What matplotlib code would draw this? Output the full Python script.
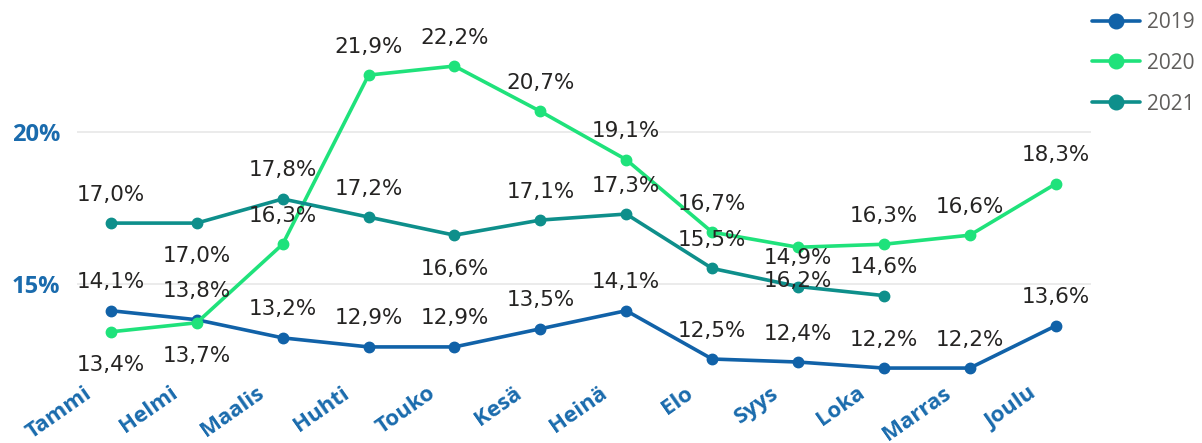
import matplotlib
matplotlib.use("Agg")
import matplotlib.pyplot as plt
import matplotlib.transforms as mtransforms
import numpy as np

months = ["Tammi", "Helmi", "Maalis", "Huhti", "Touko", "Kesä", "Heinä",
          "Elo", "Syys", "Loka", "Marras", "Joulu"]
y2019 = [14.1, 13.8, 13.2, 12.9, 12.9, 13.5, 14.1, 12.5, 12.4, 12.2, 12.2, 13.6]
y2020 = [13.4, 13.7, 16.3, 21.9, 22.2, 20.7, 19.1, 16.7, 16.2, 16.3, 16.6, 18.3]
y2021 = [17.0, 17.0, 17.8, 17.2, 16.6, 17.1, 17.3, 15.5, 14.9, 14.6]
# label placement: 'a' above, 'b' below
pos2019 = ["a"] * 12
pos2020 = ["b", "b", "a", "a", "a", "a", "a", "a", "b", "a", "a", "a"]
pos2021 = ["a", "b", "a", "a", "b", "a", "a", "a", "a", "a"]

series = [
    ("2019", y2019, pos2019, "#1162A8"),
    ("2020", y2020, pos2020, "#1FE27B"),
    ("2021", y2021, pos2021, "#0E8F8B"),
]

fig = plt.figure(figsize=(12.02, 4.43), dpi=100)
ax = fig.add_axes([0.064, 0.15, 0.8436, 0.82])

label_font = ["DejaVu Sans Condensed", "Liberation Sans Narrow", "DejaVu Sans"]
axis_color = "#1A6BAD"

for name, vals, pos, col in series:
    x = np.arange(len(vals))
    ax.plot(x, vals, color=col, lw=2.6, marker="o", ms=7.5, label=name,
            solid_capstyle="round", zorder=3)
    for xi, v, p in zip(x, vals, pos):
        off = 20.5 if p == "a" else -24
        ax.annotate(f"{v:.1f}%".replace(".", ","), (xi, v),
                    xytext=(0, off), textcoords="offset points",
                    ha="center", va="center", fontsize=15.5,
                    color="#252423", family=label_font, zorder=4)

ax.set_xlim(-0.395, 11.41)
ax.set_ylim(11.919, 23.947)
ax.set_yticks([15, 20])
ax.set_yticklabels(["15%", "20%"])
ax.set_xticks(np.arange(len(months)))
ax.set_xticklabels([])
ax.grid(axis="y", color="#E8E8E8", lw=1.2, zorder=0)
ax.grid(axis="x", visible=False)
for s in ax.spines.values():
    s.set_visible(False)
ax.tick_params(axis="both", length=0)
for lbl in ax.get_yticklabels():
    lbl.set_fontfamily("Open Sans")
    lbl.set_fontweight("bold")
    lbl.set_fontsize(17)
    lbl.set_color(axis_color)
ax.tick_params(axis="y", pad=12)

# rotated month labels under each tick
shift = mtransforms.ScaledTranslation(-27 / 100, -6 / 100, fig.dpi_scale_trans)
xtr = ax.get_xaxis_transform() + shift
for i, m in enumerate(months):
    ax.text(i, 0, m, transform=xtr, rotation=35, rotation_mode="anchor",
            ha="right", va="top", fontsize=16, fontweight="bold",
            family="Open Sans", color=axis_color, clip_on=False)

leg = ax.legend(loc="upper left", bbox_to_anchor=(1.001, 1.0036),
                frameon=False, handlelength=2.3, handletextpad=0.35,
                labelspacing=0.95, markerscale=1.4, borderpad=0,
                borderaxespad=0,
                prop={"family": "Open Sans", "size": 15})
for t in leg.get_texts():
    t.set_color("#605E5C")

fig.savefig("out.png", dpi=100)
